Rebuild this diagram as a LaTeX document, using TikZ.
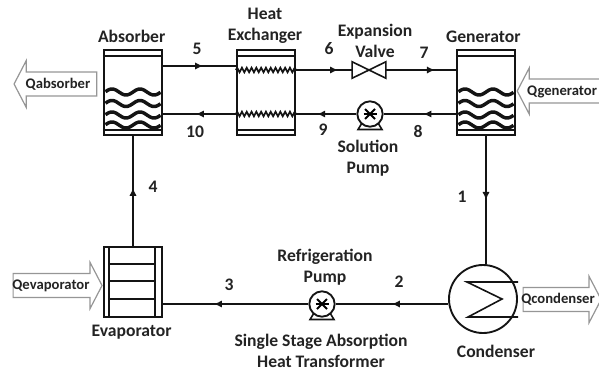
\documentclass[tikz,border=0pt]{standalone}
\usepackage{fontspec}
\setmainfont{Carlito}
\usepackage{xcolor}
\usetikzlibrary{positioning,shapes.arrows,arrows.meta,calc,decorations.markings,decorations.pathmorphing}
\definecolor{mytext}{RGB}{35,35,35}
\definecolor{myline}{RGB}{20,20,20}
\definecolor{myheat}{RGB}{150,150,150}
% two shell bands and the four liquid layers
\newcommand{\shellbands}[1]{
  \draw[thinline] ($(#1.north west)+(0,7)$) -- ($(#1.north east)+(0,7)$);
  \draw[thinline] ($(#1.south west)+(0,-6)$) -- ($(#1.south east)+(0,-6)$);
  \foreach \wy in {92,103.5,115,125}
    \draw[wavy] plot[domain=0:55,samples=45,smooth]
      ({\wavex+1.5+\x},{\wy-3*cos(12.857*(\x-6.5))});
}
\newcommand{\pumpmark}[1]{
  \draw[line width=1.4pt] ($(#1)+(-6.5,0)$) -- ($(#1)+(6.5,0)$);
  \draw[line width=1.4pt] ($(#1)+(-5,-5)$) -- ($(#1)+(5,5)$);
  \draw[line width=1.4pt] ($(#1)+(-5,5)$) -- ($(#1)+(5,-5)$);
  \draw[thinline] ($(#1)+(-8,9)$) -- ($(#1)+(-12,15.5)$) -- ($(#1)+(12,15.5)$) -- ($(#1)+(8,9)$);
}
\begin{document}
\begin{tikzpicture}[x=0.75pt,y=-0.75pt,
    font=\bfseries\fontsize{13.2pt}{16pt}\selectfont,
    shell/.style={rectangle, draw=myline, line width=1.6pt, minimum width=43.5pt, minimum height=63.5pt, inner sep=0pt},
    evapbox/.style={shell, minimum height=52pt},
    pumpbody/.style={circle, draw=myline, line width=1.4pt, fill=white, minimum size=19pt, inner sep=0pt},
    valvebox/.style={rectangle, minimum width=25pt, minimum height=12pt, inner sep=0pt},
    thinline/.style={draw=myline, line width=1.2pt},
    wavy/.style={draw=myline, line width=2.6pt},
    coil/.style={draw=myline, line width=1.3pt, decorate, decoration={zigzag, amplitude=1.7pt, segment length=3.6pt}},
    pipe/.style={draw=myline, line width=1.4pt},
    flow/.style={pipe, postaction={decorate}, decoration={markings, mark=at position #1 with {\arrow{Latex[length=6pt,width=5.5pt]}}}},
    lbl/.style={text=mytext, align=center, inner sep=0pt},
    heat/.style={single arrow, draw=myheat, line width=0.9pt, fill=white, inner xsep=0pt, inner ysep=8.5pt,
      single arrow tip angle=125, single arrow head extend=8.5pt},
    heatlbl/.style={lbl, font=\bfseries\fontsize{11pt}{12pt}\selectfont}
  ]
  \useasboundingbox (0,0) rectangle (599,372);
  \coordinate (rowa) at (0,66);
  \coordinate (rowb) at (0,70);
  \coordinate (rowc) at (0,114);
  \coordinate (rowd) at (0,304);

  \node[shell] (absorber) at (133,92.5) {};
  \node[shell] (exch) at (266,92.5) {};
  \node[shell] (generator) at (486,92.5) {};
  \node[evapbox] (evap) at (133,282) {};
  \node[circle, draw=myline, line width=1.4pt, minimum size=51pt, inner sep=0pt] (condenser) at (483,299) {};
  \node[pumpbody] (solpump) at (370,114) {};
  \node[pumpbody] (refpump) at (322,304) {};
  \node[valvebox] (valve) at (369,70) {};

  \def\wavex{104}
  \shellbands{absorber}
  \def\wavex{457}
  \shellbands{generator}
  \draw[thinline] ($(exch.north west)+(0,7)$) -- ($(exch.north east)+(0,7)$);
  \draw[thinline] ($(exch.south west)+(0,-6)$) -- ($(exch.south east)+(0,-6)$);
  \draw[coil] (exch.west |- rowb) -- (exch.east |- rowb);
  \draw[coil] (exch.west |- rowc) -- (exch.east |- rowc);
  \foreach \ex in {6,52}
    \draw[thinline] ($(evap.north west)+(\ex,0)$) -- ($(evap.south west)+(\ex,0)$);
  \foreach \ey in {264,281,299}
    \draw[thinline] (110,\ey) -- (156,\ey);
  \draw[thinline] (518,282) -- (467,282) -- (502,299) -- (468,317) -- (518,317);
  \pumpmark{solpump}
  \pumpmark{refpump}
  \draw[thinline, fill=white] (valve.north west) -- (valve.south east) -- (valve.north east) -- (valve.south west) -- cycle;

  % pipes
  \draw[flow=0.55] (absorber.east |- rowa) -- (exch.west |- rowa);
  \draw[flow=0.75] (exch.east |- rowb) -- (valve.west);
  \draw[flow=0.7] (valve.east) -- (generator.west |- rowb);
  \draw[flow=0.45] (generator.west |- rowc) -- (solpump.east);
  \draw[flow=0.65] (solpump.west) -- (exch.east |- rowc);
  \draw[flow=0.55] (exch.west |- rowc) -- (absorber.east |- rowc);
  \draw[flow=0.5] (generator.south) -- (condenser.north -| generator.south);
  \draw[flow=0.5] (condenser.west |- rowd) -- (refpump.east);
  \draw[flow=0.65] (refpump.west) -- (evap.east |- rowd);
  \draw[flow=0.53] (evap.north) -- (absorber.south);

  % names
  \node[lbl, above=5pt of absorber, xshift=-1pt] (absname) {Absorber};
  \node[lbl] (exchname) at (265,26) {Heat\\Exchanger};
  \node[lbl] (valvename) at (375,41) {Expansion\\Valve};
  \node[lbl, above=5pt of generator, xshift=-2pt] (genname) {Generator};
  \node[lbl] (solname) at (368,158) {Solution\\Pump};
  \node[lbl] (refname) at (325,267) {Refrigeration\\Pump};
  \node[lbl, below=5pt of evap, xshift=-1pt] (evapname) {Evaporator};
  \node[lbl] (condname) at (496,351) {Condenser};
  \node[lbl] (title) at (321,351) {Single Stage Absorption\\Heat Transformer};

  % state points
  \node[lbl] (ptone) at (462,197) {1};
  \node[lbl] (pttwo) at (399,282) {2};
  \node[lbl] (ptthree) at (229,285) {3};
  \node[lbl] (ptfour) at (153,187) {4};
  \node[lbl] (ptfive) at (197,49) {5};
  \node[lbl] (ptsix) at (329,49) {6};
  \node[lbl] (ptseven) at (424,53) {7};
  \node[lbl] (pteight) at (418,131) {8};
  \node[lbl] (ptnine) at (323,130) {9};
  \node[lbl] (ptten) at (195,132) {10};

  % heat flows
  \node[heat, shape border rotate=180, minimum height=62pt] (qabs) at (58.5,84) {};
  \node[heat, shape border rotate=180, minimum height=64pt] (qgen) at (563,91) {};
  \node[heat, minimum height=66.7pt] (qeva) at (54.5,285.5) {};
  \node[heat, minimum height=58.5pt] (qcon) at (559,299.5) {};
  \node[heatlbl] (qabstext) at (58,84) {Qabsorber};
  \node[heatlbl] (qgentext) at (562,92) {Qgenerator};
  \node[heatlbl] (qevatext) at (51,285.5) {Qevaporator};
  \node[heatlbl] (qcontext) at (558,299.5) {Qcondenser};
\end{tikzpicture}
\end{document}
